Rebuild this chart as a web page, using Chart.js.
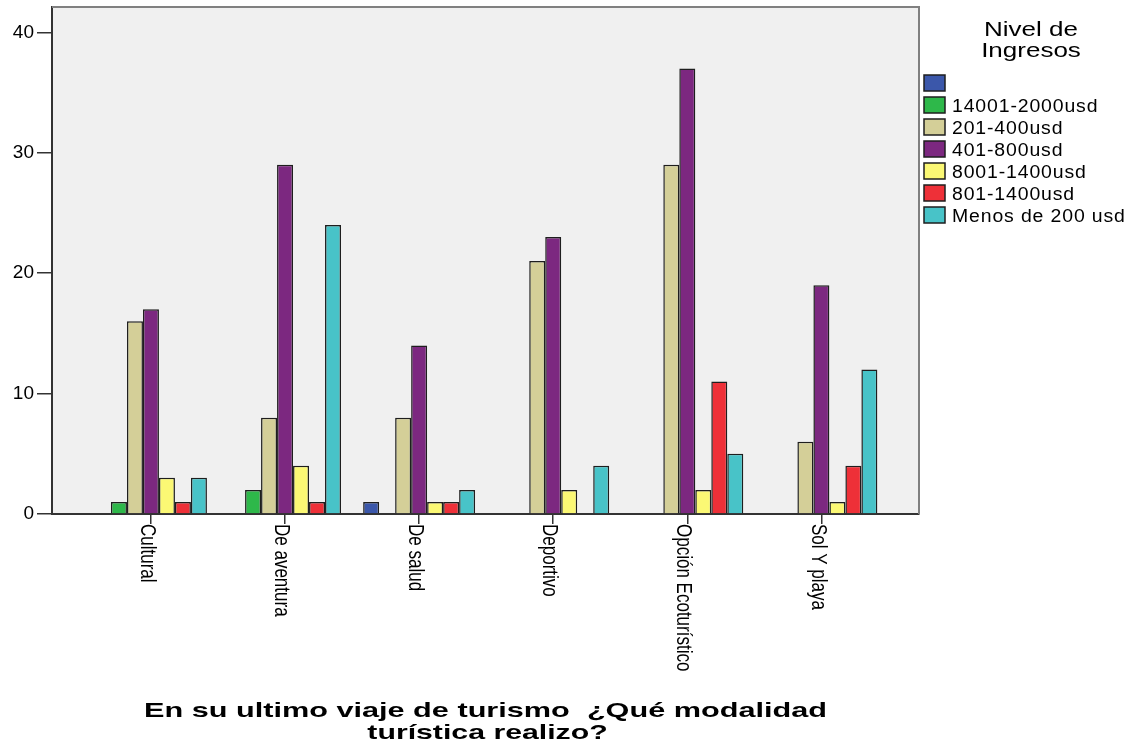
<!DOCTYPE html>
<html>
<head>
<meta charset="utf-8">
<title>Modalidad turística por nivel de ingresos</title>
<script src="https://cdn.jsdelivr.net/npm/chart.js@4/dist/chart.umd.min.js"></script>
<style>
  html, body { margin: 0; padding: 0; background: #fff; }
  #wrap { width: 1144px; height: 746px; position: relative; }
</style>
</head>
<body>
<div id="wrap"><canvas id="modalidadChart"></canvas></div>
<script>
const categories = ['Cultural', 'De aventura', 'De salud', 'Deportivo', 'Opción Ecoturístico', 'Sol Y playa'];

// one array per income level, in category order
const seriesNames = ['', '14001-2000usd', '201-400usd', '401-800usd', '8001-1400usd', '801-1400usd', 'Menos de 200 usd'];
const sinDato = [0, 0, 1, 0, 0, 0];
const ingresos14001 = [1, 2, 0, 0, 0, 0];
const ingresos201 = [16, 8, 8, 21, 29, 6];
const ingresos401 = [17, 29, 14, 23, 37, 19];
const ingresos8001 = [3, 4, 1, 2, 2, 1];
const ingresos801 = [1, 1, 1, 0, 11, 4];
const menos200 = [3, 24, 2, 4, 5, 12];
const seriesValues = [sinDato, ingresos14001, ingresos201, ingresos401, ingresos8001, ingresos801, menos200];

const yTicks = [0, 10, 20, 30, 40];
const xTitle = ['En su ultimo viaje de turismo  ¿Qué modalidad', 'turística realizo?'];
const legendTitle = ['Nivel de', 'Ingresos'];

const seriesColors = ['#3b57aa', '#2eb84a', '#d4cf98', '#7c2880', '#fbf874', '#ee3038', '#48c3c8'];
const fontFamily = "'Liberation Sans', Arial, sans-serif";


// text drawn wider than the font, like the SPSS output
function wideText(c, text, x, y, sx) {
	c.save();
	c.translate(x, y);
	c.scale(sx, 1);
	c.fillText(text, 0, 0);
	c.restore();
}


const spssFrame = {
	id: 'spssFrame',
	beforeDraw(chart) {
		const a = chart.chartArea;
		const c = chart.ctx;
		c.save();
		c.fillStyle = '#f0f0f0';
		c.fillRect(a.left, a.top, a.right - a.left, a.bottom - a.top);
		c.restore();
	},
	afterDraw(chart) {
		const a = chart.chartArea;
		const c = chart.ctx;
		const xScale = chart.scales.x;

		// top and right edges of the plot frame
		c.save();
		c.strokeStyle = '#808080';
		c.lineWidth = 2;
		c.beginPath();
		c.moveTo(a.left, a.top);
		c.lineTo(a.right, a.top);
		c.lineTo(a.right, a.bottom);
		c.stroke();
		c.restore();

		// category labels, reading downwards
		c.save();
		c.fillStyle = '#000';
		c.font = '17px ' + fontFamily;
		c.textAlign = 'left';
		c.textBaseline = 'middle';
		categories.forEach((name, i) => {
			const px = xScale.getPixelForValue(i);
			c.save();
			c.translate(px - 4, a.bottom + 10);
			c.rotate(Math.PI / 2);
			c.scale(1, 1.25);
			c.fillText(name, 0, 0);
			c.restore();
		});
		c.restore();

		// axis title
		c.save();
		c.fillStyle = '#000';
		c.font = 'bold 21px ' + fontFamily;
		c.textAlign = 'center';
		c.textBaseline = 'alphabetic';
		const mid = (a.left + a.right) / 2;
		wideText(c, xTitle[0], mid, 717, 1.46);
		wideText(c, xTitle[1], mid + 2, 739, 1.44);
		c.restore();

		// legend
		c.save();
		c.fillStyle = '#000';
		c.font = '20px ' + fontFamily;
		c.textAlign = 'center';
		wideText(c, legendTitle[0], 1031, 36, 1.3);
		wideText(c, legendTitle[1], 1031, 57, 1.3);

		c.font = '18px ' + fontFamily;
		c.textAlign = 'left';
		c.letterSpacing = '0.8px';
		chart.data.datasets.forEach((ds, i) => {
			const top = 75 + i * 22;
			c.fillStyle = ds.backgroundColor;
			c.fillRect(924, top, 21, 16);
			c.strokeStyle = '#1e1e1e';
			c.lineWidth = 1.5;
			c.strokeRect(924, top, 21, 16);
			c.fillStyle = '#000';
			wideText(c, ds.label, 952, top + 15, 1.08);
		});
		c.restore();
	}
};


const ctx = document.getElementById('modalidadChart').getContext('2d');

function drawChart() {
	const datasets = seriesNames.map((name, i) => ({
		label: name,
		data: seriesValues[i].map((v, k) => ({ x: k, y: v })),
		backgroundColor: seriesColors[i],
		borderColor: '#1e1e1e',
		borderWidth: 1.5,
		categoryPercentage: 0.835,
		barPercentage: 1
	}));

	return new Chart(ctx, {
		type: 'bar',
		data: { datasets: datasets },
		plugins: [spssFrame],
		options: {
			responsive: true,
			maintainAspectRatio: false,
			animation: false,
			layout: { padding: { top: 7, right: 225, left: 0, bottom: 0 } },
			plugins: {
				legend: { display: false },
				tooltip: { enabled: false }
			},
			scales: {
				x: {
					type: 'linear',
					offset: false,
					min: -0.738,
					max: 5.728,
					afterBuildTicks: (s) => { s.ticks = categories.map((_, i) => ({ value: i })); },
					afterFit: (s) => { s.height = 232; s.paddingLeft = 0; s.paddingRight = 0; },
					ticks: { display: false },
					grid: { offset: false, drawOnChartArea: false, drawTicks: true, tickLength: 10, color: '#333', lineWidth: 1.5 },
					border: { display: true, color: '#333', width: 2 }
				},
				y: {
					min: 0,
					max: 42.1,
					afterBuildTicks: (s) => { s.ticks = yTicks.map((v) => ({ value: v })); },
					afterFit: (s) => { s.width = 52; s.paddingTop = 0; s.paddingBottom = 0; },
					ticks: { color: '#000', font: { family: fontFamily, size: 19 }, padding: 3 },
					grid: { drawOnChartArea: false, drawTicks: true, tickLength: 15, color: '#333', lineWidth: 1.5 },
					border: { display: true, color: '#333', width: 2 }
				}
			}
		}
	});
}

drawChart();
</script>
</body>
</html>
